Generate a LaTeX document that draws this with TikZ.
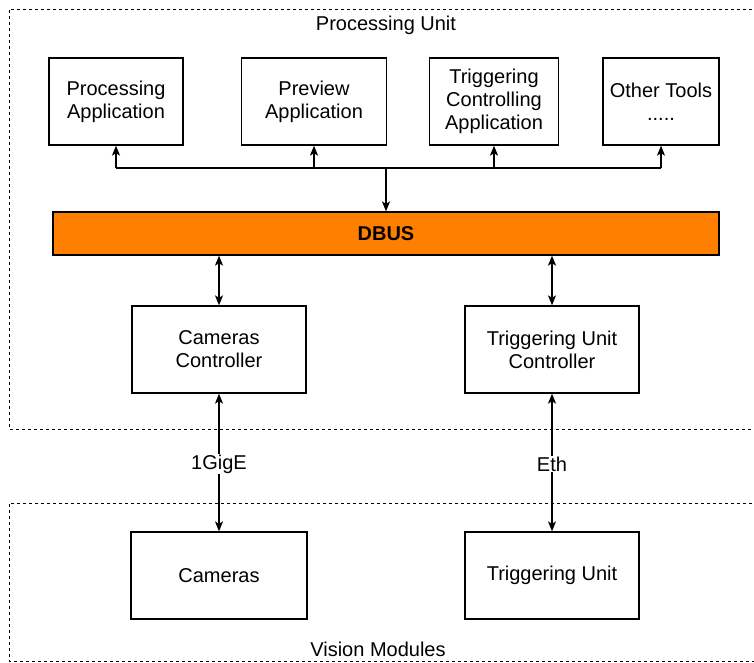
\documentclass[tikz,border=0pt]{standalone}
\usepackage{fontspec}
\setmainfont{Liberation Sans}
\usetikzlibrary{arrows.meta}
\definecolor{busorange}{HTML}{FF8000}
\begin{document}
\begin{tikzpicture}[x=1pt,y=-1pt,
  font=\fontsize{20}{23}\selectfont,
  box/.style={draw,line width=1.3pt,align=center,inner sep=0pt,minimum height=87pt},
  arr/.style={line width=1.3pt,-{Stealth[length=10pt,width=8pt,inset=2.5pt]}},
  arrtwo/.style={line width=1.3pt,{Stealth[length=10pt,width=8pt,inset=2.5pt]}-{Stealth[length=10pt,width=8pt,inset=2.5pt]}},
  region/.style={line width=0.8pt,dash pattern=on 3pt off 3pt},
  lbl/.style={inner sep=1pt}]
\useasboundingbox (0,0) rectangle (754,662);
% dashed regions
\draw[region] (770,9) -- (9,9) -- (9,429) -- (770,429);
\draw[region] (770,503) -- (9,503) -- (9,661) -- (770,661);
\node[lbl] (pu) at (386,25) {Processing Unit};
\node[lbl] (vm) at (378,649) {Vision Modules};
% top boxes
\node[box,minimum width=134pt] (pa) at (116,101.5) {Processing\\Application};
\node[box,minimum width=145pt] (pv) at (314,101.5) {Preview\\Application};
\node[box,minimum width=129pt] (tc) at (494,101.5) {Triggering\\Controlling\\Application};
\node[box,minimum width=116pt] (ot) at (661,101.5) {Other Tools\\.....};
% bus
\node[box,fill=busorange,minimum width=666pt,minimum height=43pt,font=\fontsize{20}{23}\selectfont\bfseries] (dbus) at (386,233.5) {DBUS};
% controllers
\node[box,minimum width=174pt] (cc) at (219,349.5) {Cameras\\Controller};
\node[box,minimum width=174pt] (tuc) at (552,349.5) {Triggering Unit\\Controller};
% devices
\node[box,minimum width=176pt] (cam) at (219,575.5) {Cameras};
\node[box,minimum width=174pt] (tu) at (552,575.5) {Triggering Unit};
% connectors
\coordinate (j) at (386,168);
\draw[line width=1.3pt] (pa.south |- j) -- (ot.south |- j);
\foreach \n in {pa,pv,tc,ot} \draw[arr] (\n.south |- j) -- (\n.south);
\draw[arr] (j) -- (dbus.north);
\draw[arrtwo] (cc.north |- dbus.south) -- (cc.north);
\draw[arrtwo] (tuc.north |- dbus.south) -- (tuc.north);
\draw[arrtwo] (cc.south) -- (cam.north);
\draw[arrtwo] (tuc.south) -- (tu.north);
\node[lbl,fill=white] (ge) at (219,464) {1GigE};
\node[lbl,fill=white] (eth) at (552,464) {Eth};
\end{tikzpicture}
\end{document}
